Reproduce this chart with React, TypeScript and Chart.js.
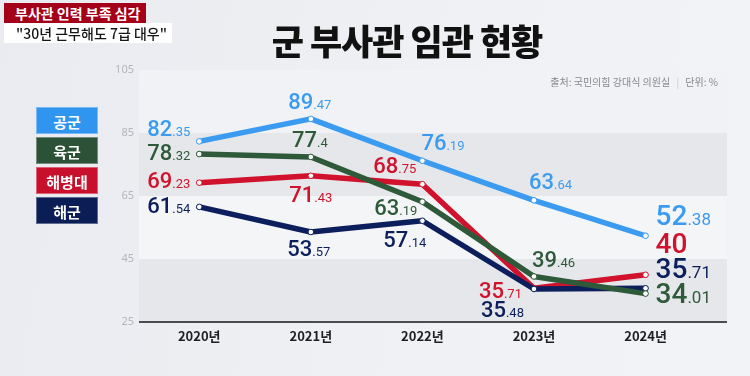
import React, { useEffect, useRef } from "react";
import { Chart, registerables } from "chart.js";

Chart.register(...registerables);

// ---- data ----
const YEARS = ["2020년", "2021년", "2022년", "2023년", "2024년"];
const SERIES_NAMES = ["공군", "육군", "해병대", "해군"];
const AIR_FORCE = [82.35, 89.47, 76.19, 63.64, 52.38];
const ARMY = [78.32, 77.4, 63.19, 39.46, 34.01];
const MARINES = [69.23, 71.43, 68.75, 35.71, 40];
const NAVY = [61.54, 53.57, 57.14, 35.48, 35.71];
const Y_TICKS = [25, 45, 65, 85, 105];

// ---- styles ----
const COLORS: Record<string, string> = {
  공군: "#3b9bf1",
  육군: "#2e5a39",
  해병대: "#d0122c",
  해군: "#0c1f5c",
};
const LEGEND_COLORS: Record<string, string> = {
  공군: "#3095ee",
  육군: "#2b5236",
  해병대: "#c8102c",
  해군: "#0a1d54",
};
// label placement per series per year: [align, dx, dy(baseline)]
type Place = [CanvasTextAlign, number, number];
const LABEL_PLACE: Record<string, Place[]> = {
  공군: [["right", -9, -5], ["center", -1, -10], ["left", -1, -11], ["left", -5, -11], ["left", 10, -11]],
  육군: [["right", -9, 6], ["center", -1, -10], ["right", -5, 13], ["left", -2, -9], ["left", 10, 9]],
  해병대: [["right", -9, 5], ["center", 0, 26], ["right", -6, -11], ["right", -12, 10], ["left", 10, -22]],
  해군: [["right", -9, 6], ["center", -2, 24], ["right", 4, 26], ["right", -10, 28], ["left", 10, -10]],
};
const SERIES_VALUES: Record<string, number[]> = {
  공군: AIR_FORCE,
  육군: ARMY,
  해병대: MARINES,
  해군: NAVY,
};
// draw order: first is on top
const DRAW_ORDER = ["육군", "해군", "해병대", "공군"];

const NUM_FONT = "Roboto, 'Noto Sans', sans-serif";
const KR_FONT = "'Noto Sans CJK KR', 'Noto Sans', sans-serif";

const bandsPlugin = {
  id: "bands",
  beforeDatasetsDraw(chart: any) {
    const { ctx, chartArea, scales } = chart;
    const y = scales.y;
    const fills = ["#e6e7ea", "#f4f5f7", "#e6e7ea", "#f1f2f5"];
    ctx.save();
    for (let i = 0; i < Y_TICKS.length - 1; i++) {
      const top = y.getPixelForValue(Y_TICKS[i + 1]);
      const bot = y.getPixelForValue(Y_TICKS[i]);
      ctx.fillStyle = fills[i];
      ctx.fillRect(chartArea.left, top, chartArea.right - chartArea.left, bot - top);
    }
    ctx.strokeStyle = "#4a4c50";
    ctx.lineWidth = 2;
    ctx.beginPath();
    ctx.moveTo(chartArea.left, chartArea.bottom);
    ctx.lineTo(chartArea.right, chartArea.bottom);
    ctx.stroke();
    ctx.restore();
  },
};

const labelsPlugin = {
  id: "valueLabels",
  afterDatasetsDraw(chart: any) {
    const { ctx } = chart;
    ctx.save();
    ctx.textBaseline = "alphabetic";
    chart.data.datasets.forEach((ds: any, di: number) => {
      const name = ds.label as string;
      const meta = chart.getDatasetMeta(di);
      meta.data.forEach((pt: any, i: number) => {
        const v = SERIES_VALUES[name][i];
        const [intPart, decPart] = String(v).split(".");
        const big = i === 4;
        const fInt = `500 ${big ? 28 : 22}px ${NUM_FONT}`;
        const fDec = `400 ${big ? 17 : 13}px ${NUM_FONT}`;
        const decText = decPart ? "." + decPart : "";
        ctx.font = fInt;
        const wInt = ctx.measureText(intPart).width;
        ctx.font = fDec;
        const wDec = decText ? ctx.measureText(decText).width : 0;
        const total = wInt + wDec;
        const [align, dx, dy] = LABEL_PLACE[name][i];
        let x0 = pt.x + dx;
        if (align === "right") x0 -= total;
        else if (align === "center") x0 -= total / 2;
        const yb = pt.y + dy;
        ctx.fillStyle = COLORS[name];
        ctx.textAlign = "left";
        ctx.font = fInt;
        ctx.fillText(intPart, x0, yb);
        if (decText) {
          ctx.font = fDec;
          ctx.fillText(decText, x0 + wInt, yb);
        }
      });
    });
    ctx.restore();
  },
};

export default function App() {
  const ref = useRef<HTMLCanvasElement | null>(null);

  useEffect(() => {
    if (!ref.current) return;
    const datasets = DRAW_ORDER.map((name) => ({
      label: name,
      data: SERIES_VALUES[name].map((v, i) => ({ x: i, y: v })),
      borderColor: COLORS[name],
      backgroundColor: COLORS[name],
      borderWidth: 5.5,
      borderJoinStyle: "round" as const,
      borderCapStyle: "round" as const,
      pointRadius: 2.8,
      pointBackgroundColor: "#ffffff",
      pointBorderColor: COLORS[name],
      pointBorderWidth: 1,
      tension: 0,
      fill: false,
    }));
    const chart = new Chart(ref.current, {
      type: "line",
      data: { datasets },
      options: {
        animation: false,
        responsive: false,
        devicePixelRatio: 1,
        layout: { padding: { top: 70, right: 23, bottom: 0, left: 0 } },
        plugins: {
          legend: { display: false },
          tooltip: { enabled: false },
          title: { display: false },
        },
        scales: {
          x: {
            type: "linear",
            min: -0.54,
            max: 4.73,
            afterBuildTicks: (s: any) => {
              s.ticks = YEARS.map((_, i) => ({ value: i }));
            },
            afterFit: (s: any) => {
              s.height = 54;
            },
            ticks: {
              autoSkip: false,
              maxRotation: 0,
              padding: 6,
              color: "#1e1f22",
              font: { family: KR_FONT, size: 13, weight: "bold" },
              callback: (v: any) => YEARS[v as number] ?? "",
            },
            grid: { display: false, drawTicks: false },
            border: { display: false },
          },
          y: {
            min: 25,
            max: 105,
            afterBuildTicks: (s: any) => {
              s.ticks = Y_TICKS.map((v) => ({ value: v }));
            },
            afterFit: (s: any) => {
              s.width = 139;
            },
            ticks: {
              padding: 5,
              color: "#b3b6bb",
              font: { family: "'Noto Sans', sans-serif", size: 11 },
            },
            grid: { display: false, drawTicks: false },
            border: { display: false },
          },
        },
      },
      plugins: [bandsPlugin, labelsPlugin],
    });
    return () => chart.destroy();
  }, []);

  const legendTops = [107, 137, 167, 197];

  return (
    <div
      style={{
        position: "absolute",
        left: 0,
        top: 0,
        width: 750,
        height: 376,
        overflow: "hidden",
        background: "linear-gradient(100deg, #e9ebf0 0%, #f0f1f4 60%, #f2f3f6 100%)",
        fontFamily: KR_FONT,
      }}
    >
      <canvas ref={ref} width={750} height={376} style={{ position: "absolute", left: 0, top: 0 }} />
      <div
        style={{
          position: "absolute",
          left: 4,
          top: 3,
          width: 142,
          height: 20,
          background: "#a50019",
          color: "#fff",
          fontSize: 14,
          fontWeight: 700,
          lineHeight: "20px",
          paddingLeft: 11,
          boxSizing: "border-box",
          whiteSpace: "nowrap",
        }}
      >
        부사관 인력 부족 심각
      </div>
      <div
        style={{
          position: "absolute",
          left: 4,
          top: 23,
          width: 168,
          height: 20,
          background: "#ffffff",
          color: "#151515",
          fontSize: 14,
          fontWeight: 500,
          lineHeight: "20px",
          paddingLeft: 12,
          boxSizing: "border-box",
          whiteSpace: "nowrap",
        }}
      >
        "30년 근무해도 7급 대우"
      </div>
      <div
        style={{
          position: "absolute",
          left: 207,
          top: 20,
          width: 400,
          textAlign: "center",
          fontSize: 35,
          fontWeight: 900,
          lineHeight: "40px",
          color: "#111",
          letterSpacing: -1,
          whiteSpace: "nowrap",
        }}
      >
        군 부사관 임관 현황
      </div>
      <div
        style={{
          position: "absolute",
          left: 400,
          top: 75,
          width: 318,
          textAlign: "right",
          fontSize: 10,
          lineHeight: "14px",
          color: "#85888d",
          whiteSpace: "nowrap",
        }}
      >
        출처: 국민의힘 강대식 의원실 <span style={{ color: "#c9cbcf", margin: "0 4px" }}>|</span> 단위: %
      </div>
      {SERIES_NAMES.map((name, i) => (
        <div
          key={name}
          style={{
            position: "absolute",
            left: 36,
            top: legendTops[i],
            width: 62,
            height: 27,
            background: LEGEND_COLORS[name],
            color: "#fff",
            fontSize: 15,
            fontWeight: 600,
            lineHeight: "27px",
            textAlign: "center",
            boxSizing: "border-box",
            border: "1px solid rgba(255,255,255,0.35)",
          }}
        >
          {name}
        </div>
      ))}
    </div>
  );
}
